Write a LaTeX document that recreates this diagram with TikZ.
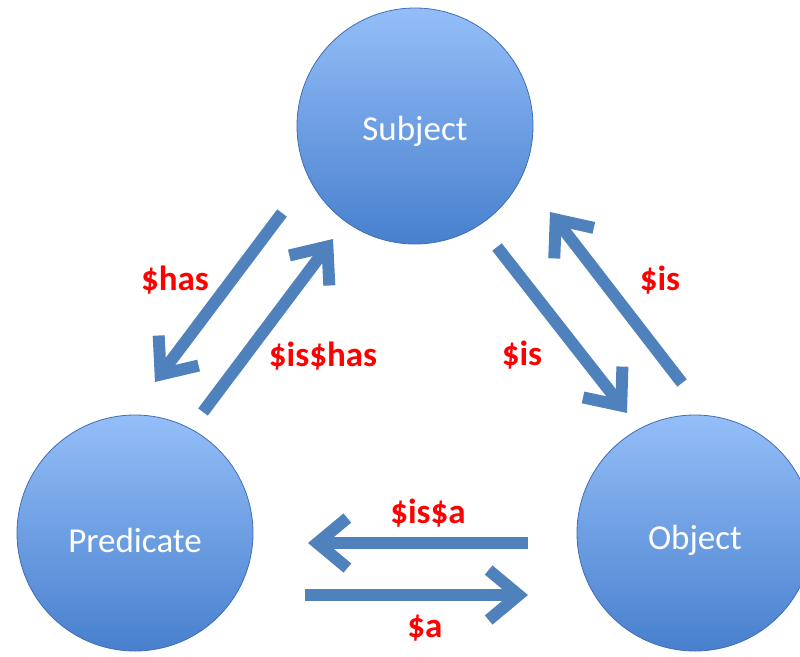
\documentclass[tikz,border=0pt]{standalone}
\usepackage{fontspec}
\setmainfont{Carlito}
\usetikzlibrary{arrows.meta}
\definecolor{arrowblue}{RGB}{79,129,189}
\definecolor{circtop}{RGB}{148,190,248}
\definecolor{circbot}{RGB}{72,128,206}
\definecolor{circline}{RGB}{64,110,180}
\definecolor{lblred}{RGB}{255,0,0}
\tikzset{
  ball/.style={circle, minimum size=236pt, inner sep=0pt, draw=circline, line width=0.8pt,
    top color=circtop, bottom color=circbot},
  balltext/.style={text=white, font=\fontsize{35}{40}\selectfont, inner sep=0pt},
  fatarrow/.style={draw=arrowblue, line width=12pt,
    -{Straight Barb[length=30pt, width=50pt, line width=12pt]}},
  lbl/.style={text=lblred, font=\fontsize{35}{40}\selectfont\bfseries, inner sep=0pt}
}
\begin{document}
\begin{tikzpicture}[x=1pt,y=-1pt]
\useasboundingbox (0,0) rectangle (800,656);
\clip (0,0) rectangle (800,656);
\node[ball] (subj) at (415,126) {};
\node[balltext] (subjt) at (415,131) {Subject};
\node[ball] (pred) at (135,533) {};
\node[balltext] (predt) at (135,540) {Predicate};
\node[ball] (obj) at (695,533) {};
\node[balltext] (objt) at (695,540) {Object};
% arrow endpoints
\coordinate (a1s) at (282,213); \coordinate (a1e) at (155,382);
\coordinate (a2s) at (203,412); \coordinate (a2e) at (333,239);
\coordinate (a3s) at (497,247); \coordinate (a3e) at (627,413);
\coordinate (a4s) at (682,383); \coordinate (a4e) at (550,212);
\coordinate (a5s) at (528,543); \coordinate (a5e) at (308,543);
\coordinate (a6s) at (305,595); \coordinate (a6e) at (528,595);
\draw[fatarrow] (a1s) -- (a1e);
\draw[fatarrow] (a2s) -- (a2e);
\draw[fatarrow] (a3s) -- (a3e);
\draw[fatarrow] (a4s) -- (a4e);
\draw[fatarrow] (a5s) -- (a5e);
\draw[fatarrow] (a6s) -- (a6e);
% labels
\node[lbl] (l1) at (175,280) {\$has};
\node[lbl] (l2) at (323,356) {\$is\$has};
\node[lbl] (l3) at (660,280) {\$is};
\node[lbl] (l4) at (522,355) {\$is};
\node[lbl] (l5) at (428,513) {\$is\$a};
\node[lbl] (l6) at (425,628) {\$a};
\end{tikzpicture}
\end{document}
